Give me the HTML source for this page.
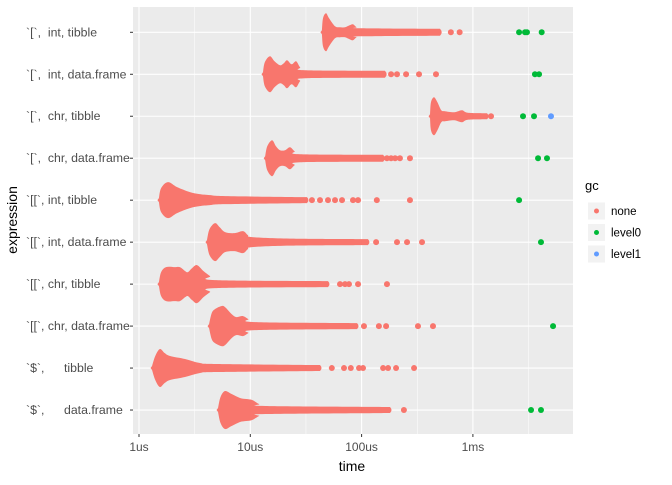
<!DOCTYPE html>
<html><head><meta charset="utf-8"><style>
body{margin:0;background:#fff;font-family:"Liberation Sans",Arial,sans-serif;}
svg text{font-family:"Liberation Sans",Arial,sans-serif;}
</style></head><body>
<svg id="chart" width="672" height="480" xmlns="http://www.w3.org/2000/svg">
<rect x="133" y="7" width="440" height="427" fill="#ebebeb"/>
<g id="grid"></g><g id="marks"></g><g id="axes"></g>
<text x="352" y="471" font-size="14" text-anchor="middle" fill="#000">time</text>
<text transform="translate(17,220) rotate(-90)" font-size="14" text-anchor="middle" fill="#000">expression</text>
<g>
<text x="585" y="190" font-size="13" fill="#000">gc</text>
<g id="legend"></g>
</g>
</svg>
<script>
const categories=["`[`,  int, tibble","`[`,  int, data.frame","`[`,  chr, tibble","`[`,  chr, data.frame","`[[`, int, tibble","`[[`, int, data.frame","`[[`, chr, tibble","`[[`, chr, data.frame","`$`,|tibble","`$`,|data.frame"];
const xTicks=[1,10,100,1000];
const xTickLabels=["1us","10us","100us","1ms"];
const gcLevels=["none","level0","level1"];
// density profiles: [time_us, half-height]
const profiles=[
[[44,2],[45,14],[47.9,19],[51,14],[57.7,6],[64,5],[71,5],[78,7],[83.7,8],[90,5],[96.8,4],[506,3.5]],
[[13,2],[13.5,12],[15,18],[16.5,13],[18.5,9],[20,11],[21.4,14],[23.5,10],[25.8,13],[28,7],[31,4],[162,3.5]],
[[412,2],[420,14],[447,19],[480,14],[520,6],[561,5],[680,4],[798,6],[900,3.5],[1340,3]],
[[13.6,2],[14.2,12],[15.7,18],[17,12],[18.5,8],[20.5,8],[22.7,11],[25,7],[28,4],[156,3.5]],
[[1.51,2],[1.58,12],[1.82,18],[2.2,13],[2.87,8],[3.5,6],[4.35,5],[6,4],[32.3,3]],
[[4.08,2],[4.3,13],[4.82,19],[5.3,15],[5.93,10],[7.2,9],[8.6,11],[9.5,7],[10.4,5],[22.7,3.5],[114,3]],
[[1.51,2],[1.58,12],[1.75,17],[2.1,17],[2.33,17],[2.6,13],[2.75,12],[3.0,16],[3.32,19],[3.8,13],[4.35,8],[4.82,4],[49.9,3]],
[[4.26,2],[4.5,13],[4.82,17],[5.5,20],[5.93,19],[6.8,12],[7.5,9],[8.6,10],[9.6,7],[11,4],[91,3]],
[[1.31,2],[1.4,12],[1.54,19],[1.7,15],[1.9,12],[2.59,9],[3.53,5],[5,4],[42.3,3]],
[[5.13,2],[5.4,13],[5.93,19],[6.8,16],[8.08,12],[9.2,11],[10.4,10],[12,6],[13.6,4],[180,3]]
];
const outliersNone=[
[634,760],
[184,208,251,328,466],
[1455],
[169,184,200,221,272],
[35.8,42.3,49.9,57.7,66.7,83.7,92.9,137,272],
[135,208,256,349],
[64,71,77,92.9,169],
[105,143,166,321,438],
[54,69.5,80,94.8,103,156,173,204,296],
[101,240]
];
const pointsLevel0=[[2600,2940,3060,4150],[3610,3930],[2820,3540],[3850,4630],[2600],[4090],[],[5250],[],[3330,4090]];
const pointsLevel1=[[],[],[5030],[],[],[],[],[],[],[]];

const colors={none:"#F8766D",level0:"#00BA38",level1:"#619CFF"};
const NS="http://www.w3.org/2000/svg";
function xScale(t){return 139+111.3*Math.log10(t);}
function yScale(i){return 32.3+i*41.97;}
function mk(tag,attrs,parent){const e=document.createElementNS(NS,tag);for(const k in attrs)e.setAttribute(k,attrs[k]);parent.appendChild(e);return e;}
function smooth(pts){ // Catmull-Rom to cubic bezier, pts already started with M
  let d='';
  for(let i=0;i<pts.length-1;i++){
    const p0=pts[Math.max(0,i-1)],p1=pts[i],p2=pts[i+1],p3=pts[Math.min(pts.length-1,i+2)];
    const c1=[p1[0]+(p2[0]-p0[0])/6,p1[1]+(p2[1]-p0[1])/6];
    const c2=[p2[0]-(p3[0]-p1[0])/6,p2[1]-(p3[1]-p1[1])/6];
    d+=' C'+c1[0]+','+c1[1]+' '+c2[0]+','+c2[1]+' '+p2[0]+','+p2[1];
  }
  return d;
}
const grid=document.getElementById('grid'),marks=document.getElementById('marks'),axes=document.getElementById('axes'),legend=document.getElementById('legend');
for(let k=0;k<xTicks.length;k++){
  const mx=xScale(xTicks[k]*Math.sqrt(10));
  if(mx<573){const l=mk('line',{x1:mx,x2:mx,y1:7,y2:434,stroke:'#fff','stroke-width':0.5},grid);
  
  }
}
xTicks.forEach((t,k)=>{
  const x=xScale(t);
  const l=mk('line',{x1:x,x2:x,y1:7,y2:434,stroke:'#fff','stroke-width':1.1},grid);
  
  
  const tk=mk('line',{x1:x,x2:x,y1:434,y2:437,stroke:'#333'},axes);
  
  
  const tx=mk('text',{x:x,y:451,'font-size':12,'text-anchor':'middle',fill:'#4d4d4d'},axes);
  tx.textContent=xTickLabels[k];
  
  
});
categories.forEach((c,i)=>{
  const y=yScale(i);
  const l=mk('line',{x1:133,x2:573,y1:y,y2:y,stroke:'#fff','stroke-width':1.1},grid);
  
  
  const tk=mk('line',{x1:130,x2:133,y1:y,y2:y,stroke:'#333'},axes);
  
  
  const parts=c.split('|');
  const tx=mk('text',{x:26,y:y+4,'font-size':12.3,fill:'#4d4d4d'},axes);
  tx.style.whiteSpace='pre';
  tx.textContent=parts[0];
  
  
  if(parts[1]){
    const t2=mk('text',{x:64,y:y+4,'font-size':12.3,fill:'#4d4d4d'},axes);
    t2.textContent=parts[1];
    
    
  }
  const p=profiles[i];
  const top=p.map(q=>[xScale(q[0]),y-q[1]]);
  const bot=p.slice().reverse().map(q=>[xScale(q[0]),y+q[1]]);
  const x0=xScale(p[0][0]), last=p[p.length-1], xe=xScale(last[0]);
  let d='M'+(x0-1.5)+','+y+' L'+top[0][0]+','+top[0][1];
  d+=smooth(top);
  d+=' Q'+(xe+last[1])+','+y+' '+bot[0][0]+','+bot[0][1];
  d+=smooth(bot);
  d+=' Z';
  const sw=mk('path',{d:d,fill:colors.none},marks);
  
  
  outliersNone[i].forEach(t=>{
    const cc=mk('circle',{cx:xScale(t),cy:y,r:3,fill:colors.none},marks);
    
    
  });
  pointsLevel0[i].forEach(t=>{
    const cc=mk('circle',{cx:xScale(t),cy:y,r:3,fill:colors.level0},marks);
    
    
  });
  pointsLevel1[i].forEach(t=>{
    const cc=mk('circle',{cx:xScale(t),cy:y,r:3,fill:colors.level1},marks);
    
    
  });
});
gcLevels.forEach((g,k)=>{
  const y=211+k*21.5;
  const bx=mk('rect',{x:588,y:y-8.5,width:17,height:17,fill:'#f2f2f2'},legend);
  
  
  const cc=mk('circle',{cx:596.5,cy:y,r:2.5,fill:colors[g]},legend);
  
  
  const tx=mk('text',{x:611,y:y+4,'font-size':11.5,fill:'#000'},legend);
  tx.textContent=g;
  
  
});
</script>
</body></html>
